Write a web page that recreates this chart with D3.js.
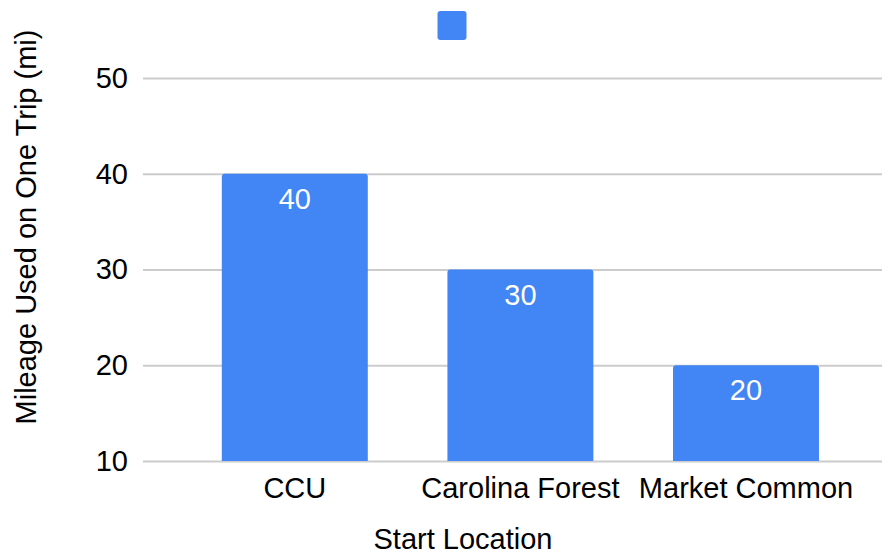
<!DOCTYPE html>
<html>
<head>
<meta charset="utf-8">
<script src="https://cdn.jsdelivr.net/npm/d3@7"></script>
<style>
  html, body { margin: 0; padding: 0; background: #fff; }
  svg { display: block; font-family: "Liberation Sans", Arial, sans-serif; }
</style>
</head>
<body>
<svg id="chart"></svg>
<script>
// Chart data
const locations = ['CCU', 'Carolina Forest', 'Market Common'];
const mileage = [40, 30, 20];
const yTicks = [10, 20, 30, 40, 50];

const width = 883;
const height = 551;
const barColor = '#4285f4';
const gridColor = '#cccccc';
const fontSize = 29;

const svg = d3.select('#chart')
  .attr('width', width)
  .attr('height', height);

// Plot area (gridlines run wider than the bar band)
const gridLeft = 143, gridRight = 882;

const x = d3.scaleBand()
  .domain(locations)
  .range([182, 858.8])
  .paddingInner(0.353)
  .paddingOuter(0.1765);

const y = d3.scaleLinear()
  .domain([10, 50])
  .range([461, 78]);

// Y axis with gridlines
const yAxis = svg.append('g')
  .attr('transform', `translate(${gridLeft},0)`)
  .call(d3.axisLeft(y)
    .tickValues(yTicks)
    .tickSizeInner(-(gridRight - gridLeft))
    .tickSizeOuter(0)
    .tickPadding(15));

yAxis.select('.domain').remove();
yAxis.selectAll('line')
  .attr('stroke', gridColor)
  .attr('stroke-width', 2);
yAxis.selectAll('text')
  .attr('fill', '#000')
  .style('font-size', fontSize + 'px')
  .style('font-family', '"Liberation Sans", Arial, sans-serif');

// Bars with rounded top corners
const r = 3;
const barPath = (d, i) => {
  const x0 = x(locations[i]);
  const x1 = x0 + x.bandwidth();
  const yTop = y(d);
  const yBot = y(10);
  return `M${x0},${yBot} L${x0},${yTop + r} Q${x0},${yTop} ${x0 + r},${yTop}` +
    ` L${x1 - r},${yTop} Q${x1},${yTop} ${x1},${yTop + r} L${x1},${yBot} Z`;
};

svg.append('g')
  .selectAll('path')
  .data(mileage)
  .enter()
  .append('path')
  .attr('d', barPath)
  .attr('fill', barColor);

// Value labels inside bars
svg.append('g')
  .selectAll('text')
  .data(mileage)
  .enter()
  .append('text')
  .attr('x', (d, i) => x(locations[i]) + x.bandwidth() / 2)
  .attr('y', d => y(d) + 35)
  .attr('text-anchor', 'middle')
  .attr('fill', '#fff')
  .style('font-size', fontSize + 'px')
  .text(d => d);

// X axis labels
const xAxis = svg.append('g')
  .attr('transform', `translate(0,${y(10)})`)
  .call(d3.axisBottom(x).tickSize(0).tickPadding(16.5));

xAxis.select('.domain').remove();
xAxis.selectAll('text')
  .attr('fill', '#000')
  .style('font-size', fontSize + 'px')
  .style('font-family', '"Liberation Sans", Arial, sans-serif');

// Axis titles
svg.append('text')
  .attr('x', 463)
  .attr('y', 549)
  .attr('text-anchor', 'middle')
  .style('font-size', fontSize + 'px')
  .text('Start Location');

svg.append('text')
  .attr('transform', 'translate(36,227) rotate(-90)')
  .attr('text-anchor', 'middle')
  .style('font-size', fontSize + 'px')
  .text('Mileage Used on One Trip (mi)');

// Legend swatch (series has no name)
svg.append('rect')
  .attr('x', 437.5)
  .attr('y', 11)
  .attr('width', 29)
  .attr('height', 29)
  .attr('rx', 3)
  .attr('fill', barColor);
</script>
</body>
</html>
